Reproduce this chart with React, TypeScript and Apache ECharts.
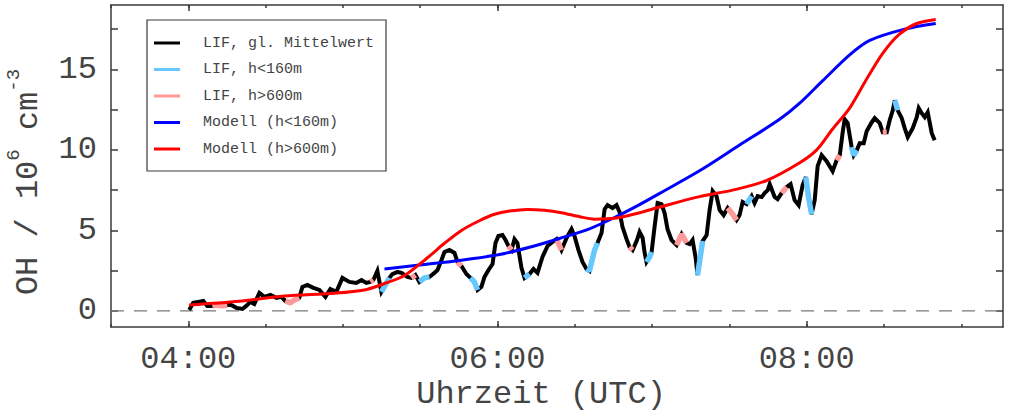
import React, { useEffect, useRef } from "react";
import * as echarts from "echarts";

// ---- axis ranges / ticks (decimal hours UTC, OH in 10^6 cm^-3) ----
const xMin = 3.5;
const xMax = 9.27;
const yMin = -1;
const yMax = 19;
const xLabelHours = [4, 6, 8];
const xMinorHours = [3.5, 4, 4.5, 5, 5.5, 6, 6.5, 7, 7.5, 8, 8.5, 9];
const yTickValues = [0, 2.5, 5, 7.5, 10, 12.5, 15, 17.5];
const yLabelValues = [0, 5, 10, 15];

const legendNames = [
  "LIF, gl. Mittelwert",
  "LIF, h<160m",
  "LIF, h>600m",
  "Modell (h<160m)",
  "Modell (h>600m)",
];

// ---- LIF measurement (layer mean), regime: 0 = none, 1 = h<160m, 2 = h>600m ----
const lifTime = [
  4.006, 4.032, 4.065, 4.097, 4.123, 4.155, 4.188, 4.22, 4.252, 4.278, 4.311, 4.35, 4.375, 4.401, 4.427,
  4.46, 4.492, 4.531, 4.57, 4.602, 4.628, 4.66, 4.686, 4.718, 4.738, 4.77, 4.809, 4.848, 4.887, 4.919,
  4.958, 4.997, 5.042, 5.087, 5.12, 5.152, 5.178, 5.197, 5.223, 5.249, 5.275, 5.301, 5.32, 5.353, 5.379,
  5.417, 5.443, 5.469, 5.495, 5.528, 5.56, 5.592, 5.612, 5.638, 5.657, 5.689, 5.722, 5.741, 5.767, 5.799,
  5.825, 5.851, 5.871, 5.896, 5.916, 5.942, 5.968, 5.987, 6.006, 6.032, 6.052, 6.071, 6.091, 6.11, 6.129,
  6.155, 6.175, 6.207, 6.233, 6.259, 6.291, 6.324, 6.356, 6.382, 6.414, 6.447, 6.479, 6.498, 6.524, 6.55,
  6.576, 6.595, 6.628, 6.647, 6.673, 6.693, 6.712, 6.744, 6.77, 6.79, 6.809, 6.835, 6.854, 6.874, 6.9,
  6.919, 6.939, 6.951, 6.964, 6.984, 6.997, 7.016, 7.036, 7.061, 7.081, 7.1, 7.126, 7.159, 7.191, 7.223,
  7.243, 7.262, 7.282, 7.294, 7.307, 7.327, 7.353, 7.372, 7.392, 7.417, 7.437, 7.463, 7.489, 7.521, 7.547,
  7.566, 7.586, 7.612, 7.644, 7.663, 7.683, 7.709, 7.728, 7.748, 7.761, 7.793, 7.812, 7.838, 7.871, 7.896,
  7.922, 7.948, 7.974, 7.994, 8.013, 8.032, 8.052, 8.071, 8.097, 8.129, 8.168, 8.194, 8.214, 8.233, 8.246,
  8.265, 8.291, 8.304, 8.324, 8.343, 8.369, 8.388, 8.421, 8.44, 8.472, 8.492, 8.518, 8.537, 8.557, 8.57,
  8.589, 8.615, 8.634, 8.654, 8.686, 8.712, 8.725, 8.744, 8.764, 8.783, 8.809, 8.828,
];
const lifValue = [
  0.06, 0.5, 0.56, 0.62, 0.31, 0.31, 0.37, 0.31, 0.37, 0.37, 0.19, 0.12, 0.31, 0.56, 0.43,
  1.12, 0.87, 0.99, 0.81, 0.87, 0.62, 0.5, 0.68, 0.81, 1.49, 1.61, 1.43, 1.3, 0.87, 1.36,
  1.18, 2.05, 1.8, 1.74, 1.92, 1.74, 1.8, 1.92, 2.48, 1.18, 1.61, 2.05, 2.29, 2.42, 2.36,
  2.11, 2.05, 2.23, 1.8, 2.05, 2.11, 2.36, 2.54, 3.16, 3.66, 3.78, 3.6, 3.04, 2.79, 2.29,
  2.05, 1.8, 1.3, 1.49, 2.11, 2.54, 2.91, 4.22, 4.65, 4.71, 4.4, 4.03, 3.78, 4.46, 4.22,
  2.67, 2.05, 2.29, 2.6, 2.36, 3.35, 4.03, 4.28, 4.46, 3.78, 4.53, 5.08, 4.65, 3.78, 3.04,
  2.6, 2.48, 3.78, 4.22, 4.84, 6.32, 6.57, 6.39, 6.57, 6.14, 5.21, 4.46, 3.97, 3.78, 4.34,
  4.9, 4.53, 3.66, 3.04, 3.35, 3.66, 5.21, 6.7, 6.63, 6.08, 5.08, 4.4, 4.09, 4.77, 4.22,
  4.15, 4.4, 3.29, 2.23, 3.04, 4.34, 4.71, 6.26, 7.44, 7.13, 6.26, 5.95, 6.39, 6.01, 5.64,
  5.95, 6.76, 6.63, 7.13, 6.7, 7.13, 7.07, 7.32, 7.5, 7.87, 7.07, 6.94, 7.32, 7.69, 7.87,
  6.88, 6.57, 7.81, 8.31, 7.0, 6.01, 6.88, 8.99, 9.67, 9.3, 8.68, 9.36, 9.67, 11.1, 11.9,
  11.66, 10.17, 9.67, 9.98, 10.42, 10.42, 11.16, 11.72, 11.97, 11.66, 11.1, 11.1, 11.84, 12.46, 13.08,
  12.46, 11.97, 11.35, 10.79, 11.35, 12.03, 12.59, 12.28, 12.03, 12.34, 11.04, 10.6,
];
const lifRegime = [
  0, 0, 0, 0, 0, 2, 2, 2, 2, 0, 0, 0, 0, 0, 0,
  0, 0, 0, 0, 0, 2, 2, 2, 2, 0, 0, 0, 0, 0, 0,
  0, 0, 0, 0, 0, 0, 2, 2, 0, 1, 1, 1, 0, 0, 0,
  0, 2, 2, 1, 1, 1, 0, 0, 0, 0, 0, 0, 2, 2, 0,
  1, 1, 1, 0, 0, 0, 0, 0, 0, 0, 0, 2, 2, 0, 0,
  0, 1, 1, 0, 0, 0, 0, 0, 2, 2, 0, 0, 0, 0, 0,
  1, 1, 1, 1, 0, 0, 0, 0, 0, 0, 0, 0, 2, 2, 0,
  0, 0, 0, 1, 1, 1, 0, 0, 0, 0, 0, 0, 2, 2, 2,
  0, 0, 0, 1, 1, 1, 0, 0, 0, 0, 0, 0, 2, 2, 2,
  0, 0, 1, 1, 0, 0, 0, 0, 0, 0, 0, 0, 2, 2, 0,
  0, 0, 0, 1, 1, 1, 0, 0, 0, 0, 0, 2, 2, 0, 0,
  0, 1, 1, 1, 0, 0, 0, 0, 0, 0, 2, 2, 0, 0, 1,
  1, 0, 0, 0, 0, 0, 0, 0, 0, 0, 0, 0,
];

// ---- model runs ----
const modelLowTime = [
  5.269, 5.495, 5.767, 6.013, 6.207, 6.401, 6.595, 6.757, 6.919, 7.049, 7.307, 7.566, 7.825, 7.955,
  8.104, 8.278, 8.408, 8.634, 8.835,
];
const modelLowValue = [
  2.6, 2.85, 3.15, 3.5, 3.95, 4.5, 5.1, 5.8, 6.6, 7.3, 8.7, 10.3, 11.9, 12.9,
  14.3, 15.9, 16.8, 17.5, 17.85,
];
const modelHighTime = [
  4.006, 4.33, 4.621, 4.945, 5.139, 5.269, 5.398, 5.547, 5.657, 5.767, 5.883, 5.981, 6.078, 6.194,
  6.304, 6.414, 6.531, 6.628, 6.757, 6.919, 7.049, 7.307, 7.521, 7.741, 7.955, 8.065, 8.168, 8.278,
  8.388, 8.492, 8.602, 8.712, 8.835,
];
const modelHighValue = [
  0.37, 0.6, 0.93, 1.1, 1.3, 1.7, 2.2, 3.3, 4.2, 5.0, 5.6, 6.0, 6.2, 6.3,
  6.25, 6.1, 5.85, 5.7, 5.75, 6.1, 6.45, 7.1, 7.5, 8.1, 9.2, 10.0, 11.3, 12.6,
  14.4, 16.0, 17.2, 17.85, 18.1,
];

const COLORS = ["#000000", "#66c8ff", "#ff9a9a", "#0000ff", "#ff0000"];
const FONT = '"Liberation Mono", "DejaVu Sans Mono", monospace';
const AXIS_COLOR = "#3a3a3a";
const TEXT_COLOR = "#444444";

const fmtHour = (v: number) => {
  const h = Math.floor(v + 1e-6);
  const m = Math.round((v - h) * 60);
  return String(h).padStart(2, "0") + ":" + String(m).padStart(2, "0");
};

export default function App() {
  const ref = useRef<HTMLDivElement>(null);
  useEffect(() => {
    if (!ref.current) return;
    const chart = echarts.init(ref.current, null, { renderer: "svg" });

    const pairs = (ts: number[], vs: number[]) => ts.map((t, i) => [t, vs[i]]);
    const regimeData = (r: number) =>
      lifTime.map((t, i) => (lifRegime[i] === r ? [t, lifValue[i]] : [t, "-"]));

    const xBase = {
      type: "value",
      min: xMin,
      max: xMax,
      splitLine: { show: false },
      axisLine: { show: false, onZero: false },
      axisLabel: { show: false },
    };
    const yBase = {
      type: "value",
      min: yMin,
      max: yMax,
      splitLine: { show: false },
      axisLine: { show: true, onZero: false, lineStyle: { color: AXIS_COLOR, width: 1.5 } },
      axisTick: {
        show: true,
        inside: true,
        length: 7,
        customValues: yTickValues,
        lineStyle: { color: AXIS_COLOR, width: 1.5 },
      },
    };

    const legendY0 = 43;
    const legendDy = 26.5;
    const legendGraphics: any[] = [
      {
        type: "rect",
        z: 100,
        shape: { x: 147, y: 20, width: 239, height: 151 },
        style: { fill: "#ffffff", stroke: AXIS_COLOR, lineWidth: 1.2 },
      },
    ];
    legendNames.forEach((name, i) => {
      const y = legendY0 + i * legendDy;
      legendGraphics.push({
        type: "line",
        z: 101,
        shape: { x1: 154, y1: y, x2: 180, y2: y },
        style: { stroke: COLORS[i], lineWidth: 3 },
      });
      legendGraphics.push({
        type: "text",
        z: 101,
        x: 203,
        y: y,
        style: {
          text: name,
          font: `15px ${FONT}`,
          fill: TEXT_COLOR,
          textVerticalAlign: "middle",
          verticalAlign: "middle",
        },
      });
    });

    chart.setOption({
      animation: false,
      backgroundColor: "#ffffff",
      grid: { left: 111, top: 5, right: 11, bottom: 85, containLabel: false },
      xAxis: [
        {
          ...xBase,
          position: "bottom",
          axisLine: { show: true, onZero: false, lineStyle: { color: AXIS_COLOR, width: 1.5 } },
          axisTick: {
            show: true,
            inside: true,
            length: 6,
            customValues: xLabelHours,
            lineStyle: { color: AXIS_COLOR, width: 1.5 },
          },
          axisLabel: {
            show: true,
            customValues: xLabelHours,
            formatter: (v: number) => fmtHour(v),
            fontFamily: FONT,
            fontSize: 32,
            color: TEXT_COLOR,
            margin: 16,
          },
        },
        {
          ...xBase,
          position: "bottom",
          axisTick: {
            show: true,
            inside: true,
            length: 3,
            customValues: xMinorHours,
            lineStyle: { color: AXIS_COLOR, width: 1.5 },
          },
        },
        {
          ...xBase,
          position: "top",
          axisLine: { show: true, onZero: false, lineStyle: { color: AXIS_COLOR, width: 1.5 } },
          axisTick: {
            show: true,
            inside: true,
            length: 6,
            customValues: xLabelHours,
            lineStyle: { color: AXIS_COLOR, width: 1.5 },
          },
        },
        {
          ...xBase,
          position: "top",
          axisTick: {
            show: true,
            inside: true,
            length: 3,
            customValues: xMinorHours,
            lineStyle: { color: AXIS_COLOR, width: 1.5 },
          },
        },
      ],
      yAxis: [
        {
          ...yBase,
          position: "left",
          axisLabel: {
            show: true,
            customValues: yLabelValues,
            fontFamily: FONT,
            fontSize: 32,
            color: TEXT_COLOR,
            margin: 14,
          },
        },
        {
          ...yBase,
          position: "right",
          axisLabel: { show: false },
        },
      ],
      graphic: [
        {
          type: "text",
          x: 24,
          y: 182,
          rotation: Math.PI / 2,
          style: {
            text: "{n|OH / 10}{s|6}{n| cm}{s|-3}",
            textAlign: "center",
            textVerticalAlign: "middle",
            verticalAlign: "middle",
            align: "center",
            fill: TEXT_COLOR,
            rich: {
              n: { fontFamily: FONT, fontSize: 32, lineHeight: 40, verticalAlign: "bottom", fill: TEXT_COLOR, color: TEXT_COLOR },
              s: { fontFamily: FONT, fontSize: 19, lineHeight: 40, verticalAlign: "top", fill: TEXT_COLOR, color: TEXT_COLOR },
            },
          },
        },
        {
          type: "text",
          x: 541,
          y: 394,
          style: {
            text: "Uhrzeit (UTC)",
            font: `32px ${FONT}`,
            fill: TEXT_COLOR,
            textAlign: "center",
            textVerticalAlign: "middle",
            align: "center",
            verticalAlign: "middle",
          },
        },
        ...legendGraphics,
      ],
      series: [
        {
          name: "zero",
          type: "line",
          data: [[xMin, 0], [xMax, 0]],
          symbol: "none",
          silent: true,
          lineStyle: { color: "#7a7a7a", width: 1.2, type: [13, 10] },
          z: 1,
        },
        {
          name: legendNames[0],
          type: "line",
          data: pairs(lifTime, lifValue),
          symbol: "none",
          lineStyle: { color: COLORS[0], width: 4, join: "miter" },
          z: 2,
        },
        {
          name: legendNames[1],
          type: "line",
          data: regimeData(1),
          symbol: "none",
          connectNulls: false,
          lineStyle: { color: COLORS[1], width: 5.5 },
          z: 3,
        },
        {
          name: legendNames[2],
          type: "line",
          data: regimeData(2),
          symbol: "none",
          connectNulls: false,
          lineStyle: { color: COLORS[2], width: 5.5 },
          z: 3,
        },
        {
          name: legendNames[3],
          type: "line",
          data: pairs(modelLowTime, modelLowValue),
          symbol: "none",
          smooth: 0.3,
          lineStyle: { color: COLORS[3], width: 3 },
          z: 4,
        },
        {
          name: legendNames[4],
          type: "line",
          data: pairs(modelHighTime, modelHighValue),
          symbol: "none",
          smooth: 0.3,
          lineStyle: { color: COLORS[4], width: 3 },
          z: 5,
        },
      ],
    });
    return () => chart.dispose();
  }, []);

  return (
    <div
      ref={ref}
      style={{ position: "absolute", left: 0, top: 0, width: 1014, height: 412, background: "#fff" }}
    />
  );
}
